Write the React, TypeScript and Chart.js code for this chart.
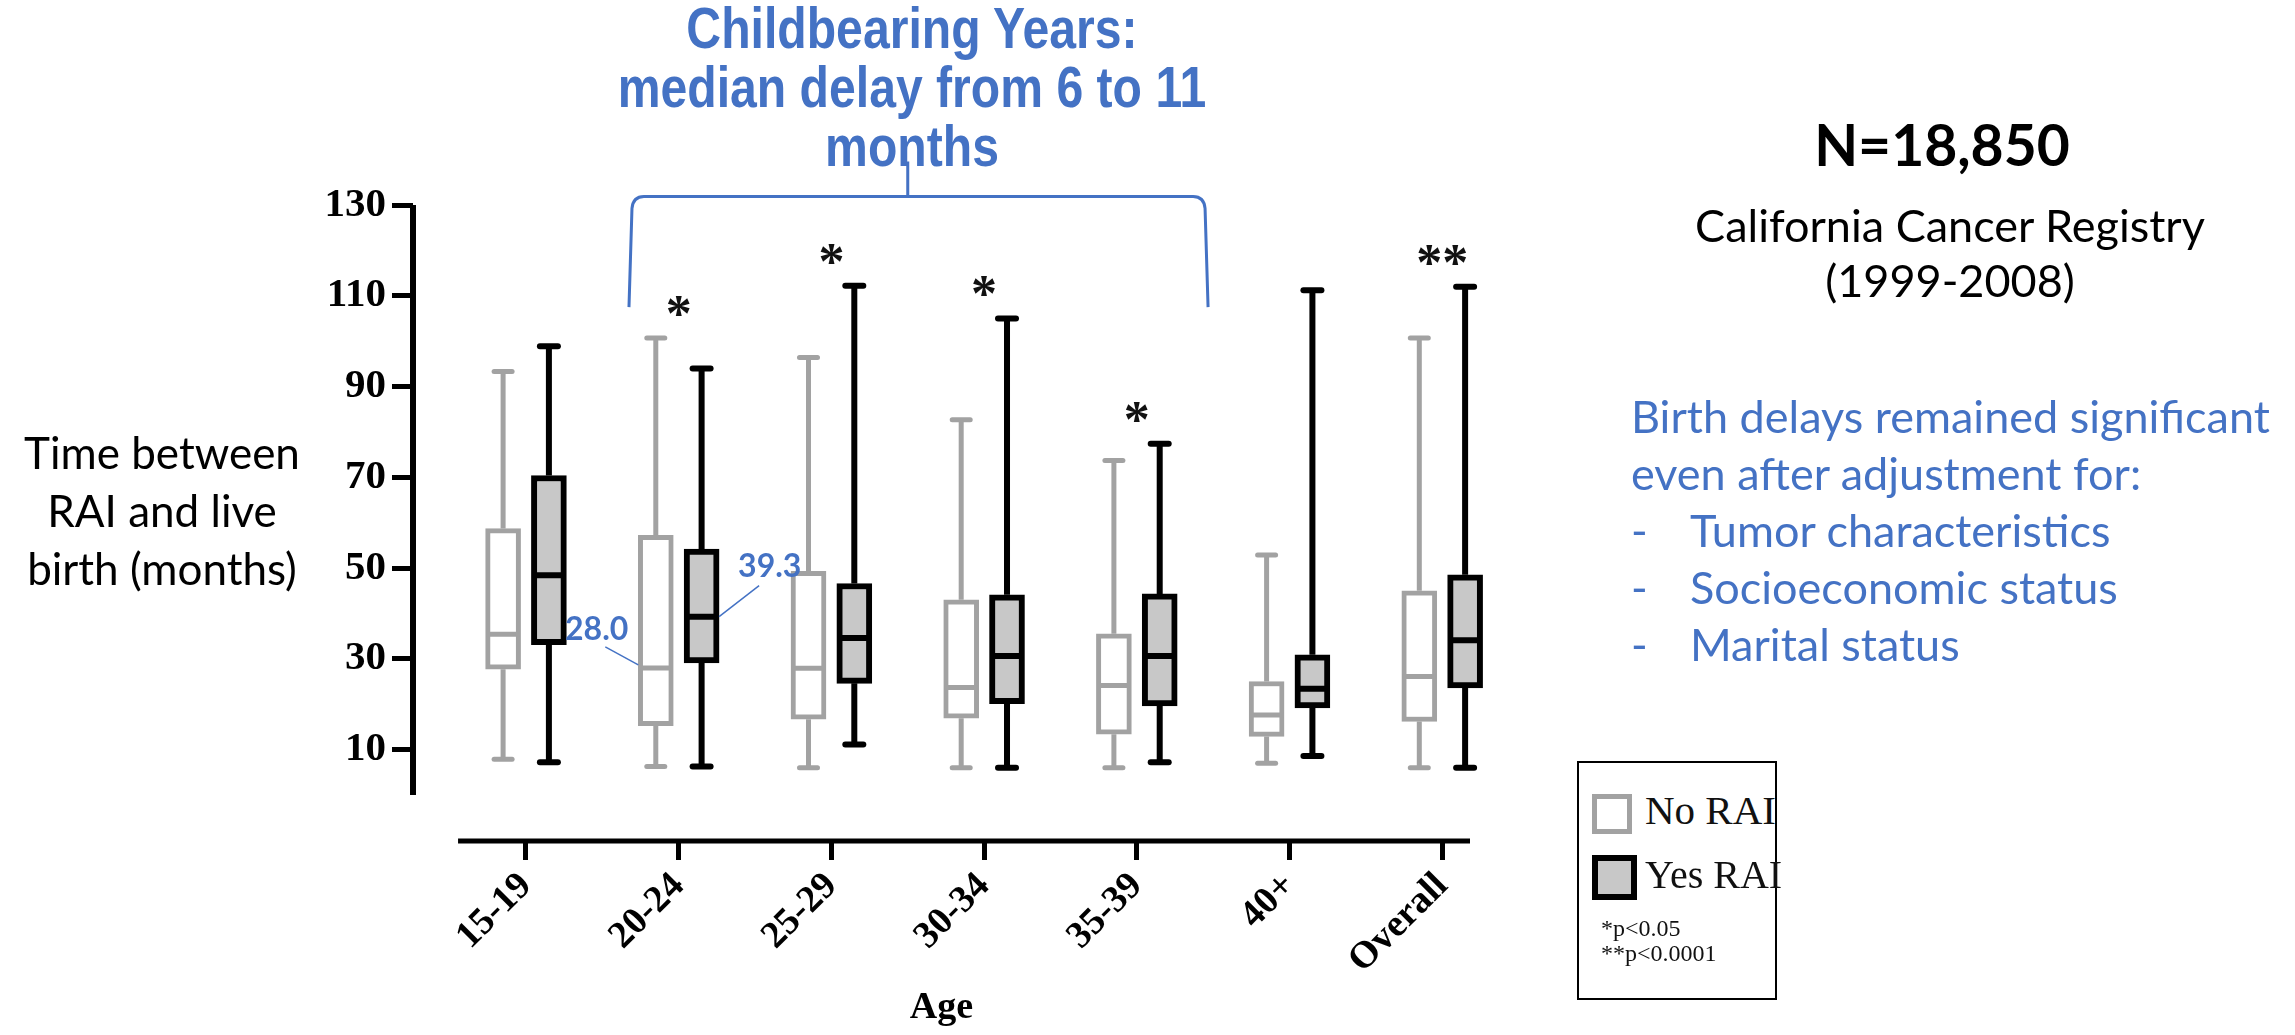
import React, { useEffect, useRef } from "react";
import { Chart, registerables } from "chart.js";

Chart.register(...registerables);

// ---------- data ----------
const categories = ["15-19", "20-24", "25-29", "30-34", "35-39", "40+", "Overall"];

const noRaiMin = [7.9, 6.3, 6.0, 6.0, 6.0, 7.0, 6.0];
const noRaiQ1 = [27.7, 15.3, 16.7, 16.9, 13.4, 12.9, 16.2];
const noRaiMedian = [35.4, 28.0, 27.9, 23.7, 24.1, 17.6, 26.1];
const noRaiQ3 = [58.7, 57.2, 49.3, 43.0, 35.5, 25.0, 45.0];
const noRaiMax = [93.3, 100.7, 96.4, 82.7, 73.7, 52.9, 100.7];

const yesRaiMin = [7.2, 6.3, 11.1, 6.0, 7.2, 8.6, 6.0];
const yesRaiQ1 = [33.1, 29.1, 24.6, 20.1, 19.6, 19.2, 23.6];
const yesRaiMedian = [48.4, 39.3, 34.6, 30.6, 30.6, 23.4, 34.1];
const yesRaiQ3 = [70.4, 54.2, 46.6, 44.1, 44.3, 30.9, 48.5];
const yesRaiMax = [98.9, 94.0, 112.2, 105.0, 77.4, 111.2, 112.0];

const significance = ["", "*", "*", "*", "*", "", "**"];
const yTickValues = [10, 30, 50, 70, 90, 110, 130];
const annotatedCategory = 1; // 20-24 medians labelled
const bracketFrom = 1; // Childbearing years: 20-24 ... 35-39
const bracketTo = 4;

// ---------- style ----------
const GREY = "#a2a2a2";
const BLACK = "#000000";
const BLUE = "#4472c4";
const YES_FILL = "#c8c8c8";
const PAIR_OFFSET = 0.15;
const BOX_WIDTH = 35;
const CAP_HALF = 9;
const X_MIN = -0.74;
const X_MAX = 6.182;
const X_AXIS_START = -0.445;
const Y_MIN = -10.14;
const Y_MAX = 130;

const series = [
  { label: "No RAI", min: noRaiMin, q1: noRaiQ1, median: noRaiMedian, q3: noRaiQ3, max: noRaiMax, offset: -PAIR_OFFSET, stroke: GREY, fill: "#ffffff", lw: 5 },
  { label: "Yes RAI", min: yesRaiMin, q1: yesRaiQ1, median: yesRaiMedian, q3: yesRaiQ3, max: yesRaiMax, offset: PAIR_OFFSET, stroke: BLACK, fill: YES_FILL, lw: 6 },
];

const boxPlotPlugin = {
  id: "boxPlotExtras",
  beforeDatasetsDraw(chart: any) {
    const { ctx, scales } = chart;
    const x = scales.x;
    const y = scales.y;
    ctx.save();
    series.forEach((s) => {
      ctx.strokeStyle = s.stroke;
      ctx.lineWidth = s.lw;
      categories.forEach((_, i) => {
        const px = x.getPixelForValue(i + s.offset);
        ctx.lineCap = "butt";
        ctx.beginPath();
        ctx.moveTo(px, y.getPixelForValue(s.q3[i]));
        ctx.lineTo(px, y.getPixelForValue(s.max[i]));
        ctx.moveTo(px, y.getPixelForValue(s.q1[i]));
        ctx.lineTo(px, y.getPixelForValue(s.min[i]));
        ctx.stroke();
        ctx.lineCap = "round";
        [s.max[i], s.min[i]].forEach((v) => {
          const py = y.getPixelForValue(v);
          ctx.beginPath();
          ctx.moveTo(px - CAP_HALF, py);
          ctx.lineTo(px + CAP_HALF, py);
          ctx.stroke();
        });
      });
    });
    ctx.restore();
  },
  afterDatasetsDraw(chart: any) {
    const { ctx, scales } = chart;
    const x = scales.x;
    const y = scales.y;
    ctx.save();
    // medians
    series.forEach((s) => {
      ctx.strokeStyle = s.stroke;
      ctx.lineWidth = s.lw;
      ctx.lineCap = "butt";
      categories.forEach((_, i) => {
        const px = x.getPixelForValue(i + s.offset);
        const py = y.getPixelForValue(s.median[i]);
        ctx.beginPath();
        ctx.moveTo(px - BOX_WIDTH / 2 + 1, py);
        ctx.lineTo(px + BOX_WIDTH / 2 - 1, py);
        ctx.stroke();
      });
    });
    // significance stars
    ctx.fillStyle = "#111";
    ctx.font = 'bold 52px "Liberation Serif"';
    ctx.textAlign = "center";
    ctx.textBaseline = "alphabetic";
    categories.forEach((_, i) => {
      if (!significance[i]) return;
      const top = Math.max(noRaiMax[i], yesRaiMax[i]) + 7.5;
      ctx.fillText(significance[i], x.getPixelForValue(i), y.getPixelForValue(top) + 27);
    });
    // median labels for 20-24
    const k = annotatedCategory;
    ctx.font = "bold 32px Lato";
    ctx.fillStyle = BLUE;
    ctx.strokeStyle = BLUE;
    ctx.lineWidth = 1.5;
    const gx = x.getPixelForValue(k - PAIR_OFFSET);
    const gy = y.getPixelForValue(noRaiMedian[k]);
    const gLeft = gx - BOX_WIDTH / 2;
    ctx.textAlign = "right";
    ctx.fillText(noRaiMedian[k].toFixed(1), gLeft - 10, gy - 28);
    ctx.beginPath();
    ctx.moveTo(gLeft - 33, gy - 21);
    ctx.lineTo(gLeft, gy - 3);
    ctx.stroke();
    const bx = x.getPixelForValue(k + PAIR_OFFSET);
    const by = y.getPixelForValue(yesRaiMedian[k]);
    const bRight = bx + BOX_WIDTH / 2;
    ctx.textAlign = "left";
    ctx.fillText(yesRaiMedian[k].toFixed(1), bRight + 19, by - 40);
    ctx.beginPath();
    ctx.moveTo(bRight + 40, by - 31);
    ctx.lineTo(bRight, by);
    ctx.stroke();
    ctx.restore();
  },
  afterDraw(chart: any) {
    const { ctx, scales, chartArea } = chart;
    const x = scales.x;
    const y = scales.y;
    ctx.save();
    ctx.strokeStyle = BLACK;
    ctx.lineCap = "butt";
    // y axis line (0 .. 130)
    ctx.lineWidth = 6;
    ctx.beginPath();
    ctx.moveTo(chartArea.left, y.getPixelForValue(0));
    ctx.lineTo(chartArea.left, y.getPixelForValue(Y_MAX));
    ctx.stroke();
    // x axis line (detached from y axis)
    ctx.lineWidth = 5;
    ctx.beginPath();
    ctx.moveTo(x.getPixelForValue(X_AXIS_START), chartArea.bottom);
    ctx.lineTo(chartArea.right, chartArea.bottom);
    ctx.stroke();
    // bracket for childbearing years
    const left = x.getPixelForValue(bracketFrom - 0.306);
    const right = x.getPixelForValue(bracketTo + 0.447);
    const mid = x.getPixelForValue((bracketFrom + bracketTo) / 2);
    const top = y.getPixelForValue(131.9);
    const bottom = y.getPixelForValue(107.5);
    const r = 12;
    ctx.strokeStyle = BLUE;
    ctx.lineWidth = 3;
    ctx.beginPath();
    ctx.moveTo(left - 3, bottom);
    ctx.lineTo(left, top + r);
    ctx.quadraticCurveTo(left + 1, top, left + r, top);
    ctx.lineTo(right - r, top);
    ctx.quadraticCurveTo(right - 1, top, right, top + r);
    ctx.lineTo(right + 3, bottom);
    ctx.moveTo(mid, top);
    ctx.lineTo(mid, top - 35);
    ctx.stroke();
    ctx.restore();
  },
};

const serifBold = (size: number) => ({ family: "Liberation Serif", weight: "bold" as const, size });

export default function App() {
  const ref = useRef<HTMLCanvasElement>(null);

  useEffect(() => {
    if (!ref.current) return;
    const chart = new Chart(ref.current, {
      type: "bar",
      data: {
        datasets: series.map((s) => ({
          label: s.label,
          data: categories.map((_, i) => ({ x: i + s.offset, y: [s.q1[i], s.q3[i]] })) as any,
          backgroundColor: s.fill,
          borderColor: s.stroke,
          borderWidth: s.lw,
          borderSkipped: false,
          barThickness: BOX_WIDTH,
          grouped: false,
          clip: false,
        })),
      },
      options: {
        animation: false,
        responsive: false,
        devicePixelRatio: 1,
        events: [],
        layout: { padding: { top: 205, right: 825, bottom: 0, left: 0 } },
        plugins: { legend: { display: false }, tooltip: { enabled: false }, title: { display: false } },
        scales: {
          x: {
            type: "linear",
            offset: false,
            min: X_MIN,
            max: X_MAX,
            afterBuildTicks: (scale: any) => {
              scale.ticks = categories.map((_, i) => ({ value: i }));
            },
            afterFit: (scale: any) => {
              scale.height = 194;
              scale.paddingLeft = 0;
              scale.paddingRight = 0;
            },
            ticks: {
              autoSkip: false,
              minRotation: 45,
              maxRotation: 45,
              padding: 4,
              color: BLACK,
              font: serifBold(38),
              callback: (v: any) => categories[v as number] ?? "",
            },
            grid: { display: true, offset: false, drawOnChartArea: false, drawTicks: true, tickLength: 19, tickWidth: 5, tickColor: BLACK, color: BLACK },
            border: { display: false },
            title: { display: true, text: "Age", color: BLACK, font: serifBold(38), padding: { top: 0, bottom: 4 } },
          },
          y: {
            type: "linear",
            min: Y_MIN,
            max: Y_MAX,
            afterBuildTicks: (scale: any) => {
              scale.ticks = yTickValues.map((v) => ({ value: v }));
            },
            afterFit: (scale: any) => {
              scale.width = 413;
              scale.paddingTop = 0;
              scale.paddingBottom = 0;
            },
            ticks: { padding: 6, color: BLACK, font: serifBold(41), callback: (v: any) => String(v) },
            grid: { display: true, offset: false, drawOnChartArea: false, drawTicks: true, tickLength: 21, tickWidth: 5, tickColor: BLACK, color: BLACK },
            border: { display: false },
          },
        },
      } as any,
      plugins: [boxPlotPlugin],
    });
    return () => chart.destroy();
  }, []);

  const calibriLike = "Lato, 'Open Sans', sans-serif";

  return (
    <div style={{ position: "absolute", left: 0, top: 0, width: 2295, height: 1035, background: "#fff", overflow: "hidden" }}>
      <canvas ref={ref} width={2295} height={1035} style={{ position: "absolute", left: 0, top: 0, width: 2295, height: 1035 }} />

      {/* bracket title */}
      <div
        style={{
          position: "absolute", left: 0, top: -2, width: 1824, textAlign: "center", color: BLUE,
          fontFamily: "'Liberation Sans', Arial, sans-serif", fontWeight: 700, fontSize: 58, lineHeight: "59px",
          transform: "scaleX(0.83)", transformOrigin: "912px 0", whiteSpace: "nowrap",
        }}
      >
        Childbearing Years:<br />median delay from 6 to 11<br />months
      </div>

      {/* y axis title */}
      <div style={{ position: "absolute", left: 0, top: 423, width: 324, textAlign: "center", color: "#000", fontFamily: calibriLike, fontSize: 44, lineHeight: "58px" }}>
        Time between<br />RAI and live<br />birth (months)
      </div>

      {/* right panel */}
      <div style={{ position: "absolute", left: 1642, top: 108, width: 600, textAlign: "center", color: "#000", fontFamily: calibriLike, fontWeight: 700, fontSize: 57, lineHeight: "72px" }}>
        N=18,850
      </div>
      <div style={{ position: "absolute", left: 1650, top: 198, width: 600, textAlign: "center", color: "#000", fontFamily: calibriLike, fontSize: 45, lineHeight: "55px" }}>
        California Cancer Registry<br />(1999-2008)
      </div>
      <div style={{ position: "absolute", left: 1631, top: 388, width: 660, color: BLUE, fontFamily: calibriLike, fontSize: 45, lineHeight: "57px", whiteSpace: "nowrap" }}>
        <div>Birth delays remained significant</div>
        <div>even after adjustment for:</div>
        {["Tumor characteristics", "Socioeconomic status", "Marital status"].map((t) => (
          <div key={t} style={{ display: "flex" }}>
            <span style={{ width: 59 }}>-</span>
            <span>{t}</span>
          </div>
        ))}
      </div>

      {/* legend */}
      <div style={{ position: "absolute", left: 1577, top: 761, width: 200, height: 239, boxSizing: "border-box", border: "2px solid #000", background: "#fff", fontFamily: "'Liberation Serif', serif", color: "#111" }}>
        <div style={{ position: "absolute", left: 13, top: 31, width: 40, height: 40, boxSizing: "border-box", border: `5px solid ${GREY}`, background: "#fff" }} />
        <div style={{ position: "absolute", left: 66, top: 27, fontSize: 41, lineHeight: "40px", whiteSpace: "nowrap" }}>{series[0].label}</div>
        <div style={{ position: "absolute", left: 13, top: 92, width: 45, height: 45, boxSizing: "border-box", border: `6px solid ${BLACK}`, background: YES_FILL }} />
        <div style={{ position: "absolute", left: 66, top: 92, fontSize: 40, lineHeight: "40px", whiteSpace: "nowrap" }}>{series[1].label}</div>
        <div style={{ position: "absolute", left: 22, top: 153, fontSize: 24, lineHeight: "24px", whiteSpace: "nowrap" }}>*p&lt;0.05</div>
        <div style={{ position: "absolute", left: 22, top: 178, fontSize: 24, lineHeight: "24px", whiteSpace: "nowrap" }}>**p&lt;0.0001</div>
      </div>
    </div>
  );
}
